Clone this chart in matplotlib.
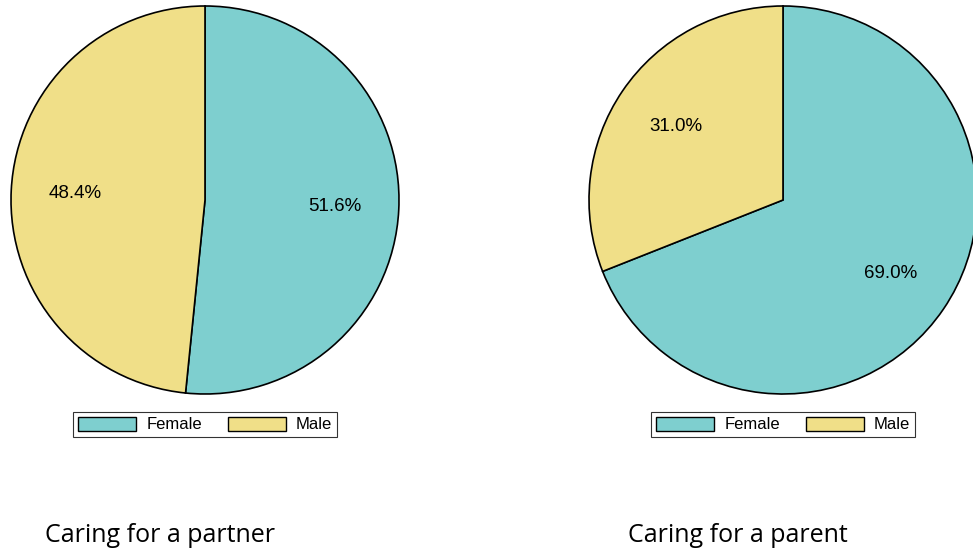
import matplotlib
matplotlib.use("Agg")
import matplotlib.pyplot as plt
from matplotlib.patches import Patch

# ── Data ───────────────────────────────────────────────────────────────────────

groups = ["Female", "Male"]
partner_share = [51.6, 48.4]
parent_share = [69.0, 31.0]
titles = ["Caring for a partner", "Caring for a parent"]

COLORS = ["#7ECFCF", "#F0DF88"]
W, H = 973, 551

plt.rcParams["font.family"] = ["Liberation Sans", "DejaVu Sans"]

fig = plt.figure(figsize=(W / 100, H / 100), dpi=100)


def draw_pie(cx, cy, r, values, title, title_x):
    ax = fig.add_axes([(cx - r) / W, (H - cy - r) / H, 2 * r / W, 2 * r / H])
    ax.pie(
        values,
        colors=COLORS,
        startangle=90,
        counterclock=False,
        autopct="%.1f%%",
        pctdistance=0.67,
        wedgeprops={"edgecolor": "black", "linewidth": 1.2, "clip_on": False},
        textprops={"fontsize": 13.5},
    )
    ax.set_xlim(-1, 1)
    ax.set_ylim(-1, 1)
    ax.set_aspect("auto")
    ax.axis("off")

    handles = [Patch(facecolor=c, edgecolor="black", linewidth=1.0) for c in COLORS]
    leg = fig.legend(
        handles, groups, ncol=2, loc="center",
        bbox_to_anchor=(cx / W, (H - 424.5) / H),
        fontsize=12, frameon=True, fancybox=False, edgecolor="black",
        handlelength=3.5, handleheight=0.9, handletextpad=0.6,
        columnspacing=1.55, borderpad=0.3, borderaxespad=0,
    )
    leg.get_frame().set_linewidth(0.8)

    fig.text(title_x / W, (H - 535) / H, title, fontsize=18,
             family=["Open Sans", "DejaVu Sans"], ha="left", va="center")


draw_pie(205, 200, 194, partner_share, titles[0], 45)
draw_pie(783, 200, 194, parent_share, titles[1], 628)

fig.savefig("out.png", dpi=100)
